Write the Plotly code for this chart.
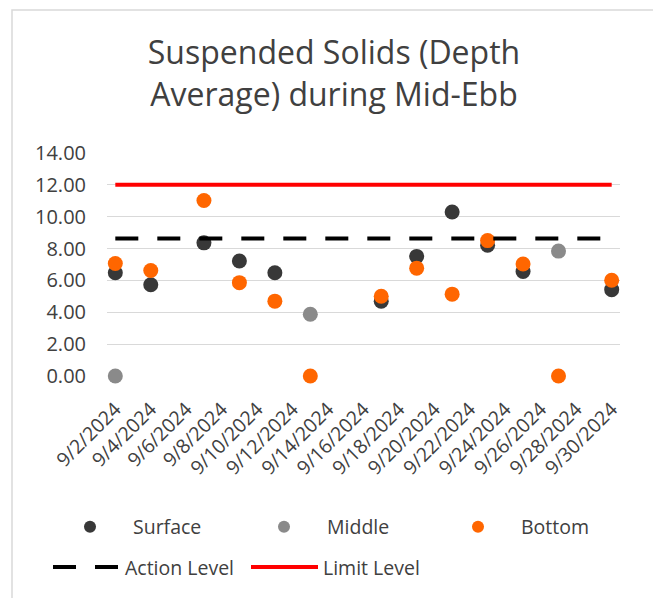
import plotly.graph_objects as go

# Sampling dates and depth-averaged suspended solids (mg/L)
surface_dates = ["2024-09-02", "2024-09-04", "2024-09-07", "2024-09-09", "2024-09-11",
                 "2024-09-17", "2024-09-19", "2024-09-21", "2024-09-23", "2024-09-25",
                 "2024-09-30"]
surface_vals = [6.48, 5.73, 8.36, 7.22, 6.48, 4.70, 7.51, 10.30, 8.21, 6.56, 5.42]

middle_dates = ["2024-09-02", "2024-09-13", "2024-09-27"]
middle_vals = [0.00, 3.88, 7.84]

bottom_dates = ["2024-09-02", "2024-09-04", "2024-09-07", "2024-09-09", "2024-09-11",
                "2024-09-13", "2024-09-17", "2024-09-19", "2024-09-21", "2024-09-23",
                "2024-09-25", "2024-09-27", "2024-09-30"]
bottom_vals = [7.06, 6.62, 11.02, 5.86, 4.70, 0.00, 5.01, 6.77, 5.14, 8.50, 7.03, 0.00, 6.01]

level_dates = ["2024-09-02", "2024-09-30"]
action_level = [8.64, 8.64]
limit_level = [12.0, 12.0]

y_ticks = [0, 2, 4, 6, 8, 10, 12, 14]

W, H = 653, 598
L, R, T, B = 107, 33, 153, 219
PW, PH = W - L - R, H - T - B

def px_x(p):
    return (p - L) / PW

def px_y(p):
    return 1 - (p - T) / PH

FONT = "Open Sans"
TXT = "#404040"

fig = go.Figure()

fig.add_trace(go.Scatter(x=surface_dates, y=surface_vals, mode="markers", name="Surface",
                         marker=dict(color="#383838", size=15), cliponaxis=False, legend="legend"))
fig.add_trace(go.Scatter(x=middle_dates, y=middle_vals, mode="markers", name="Middle",
                         marker=dict(color="#8a8a8a", size=15), cliponaxis=False, legend="legend"))
fig.add_trace(go.Scatter(x=bottom_dates, y=bottom_vals, mode="markers", name="Bottom",
                         marker=dict(color="#ff6600", size=15), cliponaxis=False, legend="legend"))

fig.add_trace(go.Scatter(x=level_dates, y=action_level, mode="lines", name="Action Level",
                         line=dict(color="black", width=4, dash="23px,19px"), legend="legend2"))
fig.add_trace(go.Scatter(x=level_dates, y=limit_level, mode="lines", name="Limit Level",
                         line=dict(color="#ff0000", width=4), legend="legend2"))

fig.update_layout(
    width=W, height=H,
    margin=dict(l=L, r=R, t=T, b=B),
    paper_bgcolor="white", plot_bgcolor="white",
    font=dict(family=FONT, color=TXT, size=19.5),
    title=dict(text="Suspended Solids (Depth<br>Average) during Mid-Ebb",
               x=334 / W, xanchor="center", y=1 - 64 / H, yanchor="middle",
               font=dict(family=FONT, size=32, color=TXT)),
    xaxis=dict(type="date",
               range=["2024-09-01 12:45", "2024-09-30 11:15"],
               tick0="2024-09-02", dtick=2 * 86400000,
               tickformat="%-m/%-d/%Y", tickangle=-45,
               showgrid=False, zeroline=False, showline=False, ticks="",
               ticklabelstandoff=17,
               tickfont=dict(size=19.5, color=TXT)),
    yaxis=dict(range=[0, 14], tickvals=y_ticks, tickformat=".2f",
               showgrid=True, gridcolor="#d9d9d9", gridwidth=1.3,
               zeroline=False, showline=False, ticks="", ticklabelstandoff=20,
               tickfont=dict(size=20, color=TXT)),
    legend=dict(orientation="h", x=px_x(47), xanchor="left", y=px_y(532), yanchor="middle",
                entrywidth=103, entrywidthmode="pixels", itemwidth=76, itemsizing="constant",
                font=dict(size=19.5, color=TXT), bgcolor="rgba(0,0,0,0)"),
    legend2=dict(orientation="h", x=px_x(48), xanchor="left", y=px_y(573), yanchor="middle",
                 entrywidth=116, entrywidthmode="pixels", itemwidth=67,
                 font=dict(size=19.5, color=TXT), bgcolor="rgba(0,0,0,0)"),
    showlegend=True,
)

# chart border (only the left and top edges fall inside the page)
fig.add_shape(type="rect", xref="paper", yref="paper",
              x0=px_x(12), x1=px_x(W + 30), y0=px_y(H + 30), y1=px_y(8),
              line=dict(color="#d9d9d9", width=1.5), fillcolor="rgba(0,0,0,0)", layer="below")

fig.write_html("out.html")
